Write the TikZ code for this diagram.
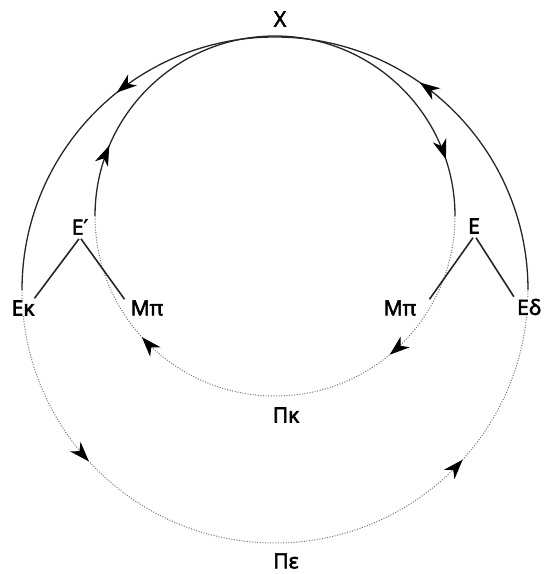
\documentclass[tikz,border=0pt]{standalone}
\usepackage{fontspec}
\newfontfamily\lblfont{Open Sans}[FakeBold=3]
\newfontfamily\primefont{DejaVu Sans}[FakeBold=2]
\usetikzlibrary{arrows.meta,decorations.markings,calc}
\begin{document}
\begin{tikzpicture}[x=1pt,y=1pt,
  lbl/.style={font=\lblfont\fontsize{21}{21}\selectfont, inner sep=1pt, text=black},
  solidarc/.style={line width=1.3pt, draw=black!85},
  dotarc/.style={line width=1pt, draw=black!55, dash pattern=on 1pt off 1.6pt},
  branch/.style={line width=1.6pt, draw=black!85},
  twotips/.style n args={2}{postaction={decorate}, decoration={markings,
     mark=at position #1 with {\arrow[black]{Stealth[length=20pt,width=14pt,inset=6pt]}},
     mark=at position #2 with {\arrow[black]{Stealth[length=20pt,width=14pt,inset=6pt]}}}}
]
\useasboundingbox (0,0) rectangle (544,574);
\coordinate (O) at (275,284);
\coordinate (I) at (275,358);

% outer circle (counterclockwise)
\draw[solidarc, twotips={0.306}{0.715}] ([shift={(O)}]0:253pt) arc (0:180:253pt);
\draw[dotarc, twotips={0.237}{0.766}] ([shift={(O)}]180:253pt) arc (180:360:253pt);
% inner circle (clockwise)
\draw[solidarc, twotips={0.128}{0.898}] ([shift={(I)}]180:180pt) arc (180:0:180pt);
\draw[dotarc, twotips={0.28}{0.765}] ([shift={(I)}]360:180pt) arc (360:180:180pt);

% labels
\node[lbl] (X) at (280,555) {Χ};
\node[lbl] (Ep) at (80,347) {E{\primefont ′}};
\node[lbl, fill=white] (Ek) at (23,266) {Eκ};
\node[lbl] (Ml) at (147,266) {Mπ};
\node[lbl] (E) at (474,348) {E};
\node[lbl] (Mr) at (400,266) {Mπ};
\node[lbl, fill=white] (Ed) at (529,267) {Eδ};
\node[lbl] (Pk) at (286,159) {Πκ};
\node[lbl] (Pe) at (286,13) {Πε};

% branches
\draw[branch] ($(Ep.south)+(-1,-3)$) -- ($(Ek.north east)+(-1,1)$);
\draw[branch] ($(Ep.south)+(1,-3)$) -- ($(Ml.north west)+(-5,0)$);
\draw[branch] ($(E.south)+(-1,-3)$) -- ($(Mr.north east)+(12,0)$);
\draw[branch] ($(E.south)+(2,-3)$) -- ($(Ed.north west)+(-2,1)$);
\end{tikzpicture}
\end{document}
